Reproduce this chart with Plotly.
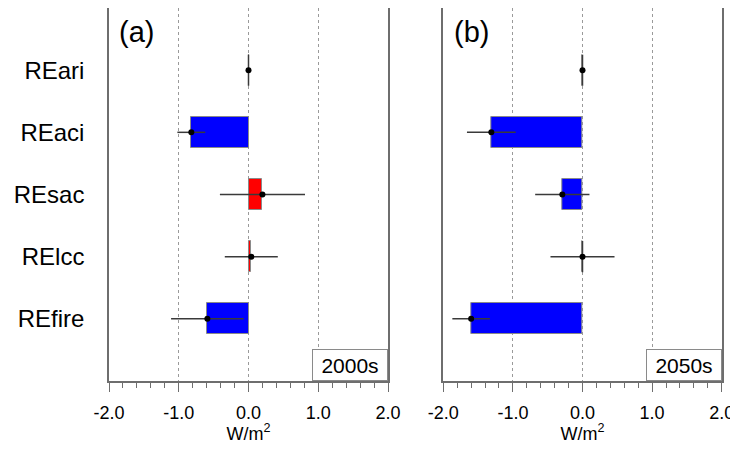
import plotly.graph_objects as go

categories = ["REari", "REaci", "REsac", "RElcc", "REfire"]
vals_2000s = [0.0, -0.82, 0.20, 0.04, -0.59]
err_2000s = [0.0, 0.20, 0.61, 0.38, 0.52]
vals_2050s = [0.0, -1.31, -0.29, 0.0, -1.60]
err_2050s = [0.0, 0.35, 0.39, 0.46, 0.27]
panel_labels = ["(a)", "(b)"]
period_labels = ["2000s", "2050s"]
x_tickvals = [-2.0, -1.0, 0.0, 1.0, 2.0]
x_ticktext = ["-2.0", "-1.0", "0.0", "1.0", "2.0"]

BAR_W = 0.5
FONT = "Liberation Sans, Arial, Helvetica, sans-serif"
FRAME = "#6e6e6e"
W = 730
H = 436

fig = go.Figure()
ypos = list(range(len(categories)))

panels = [(vals_2000s, err_2000s, "x", "y"), (vals_2050s, err_2050s, "x2", "y2")]
for vals, errs, xa, ya in panels:
    colors = ["#ff0000" if v > 0 else "#0000ff" for v in vals]
    fig.add_trace(go.Bar(
        x=vals, y=ypos, orientation="h", width=BAR_W,
        marker=dict(color=colors, line=dict(color="#8a8a8a", width=1)),
        xaxis=xa, yaxis=ya, showlegend=False, hoverinfo="skip"))
    # zero-length bars are drawn as their outline edge
    zx, zy = [], []
    for v, yv in zip(vals, ypos):
        if v == 0:
            zx += [v, v, None]
            zy += [yv - BAR_W / 2, yv + BAR_W / 2, None]
    if zx:
        fig.add_trace(go.Scatter(
            x=zx, y=zy, mode="lines", line=dict(color="#3a3a3a", width=1.5),
            xaxis=xa, yaxis=ya, showlegend=False, hoverinfo="skip"))
    fig.add_trace(go.Scatter(
        x=vals, y=ypos, mode="markers",
        marker=dict(color="black", size=6),
        error_x=dict(type="data", array=errs, visible=True, color="#3a3a3a",
                     thickness=1.5, width=0),
        xaxis=xa, yaxis=ya, showlegend=False, hoverinfo="skip"))

xcommon = dict(
    range=[-2, 2], tickvals=x_tickvals, ticktext=x_ticktext,
    ticks="outside", ticklen=9, tickwidth=1, tickcolor=FRAME,
    minor=dict(dtick=0.2, ticks="outside", ticklen=5, tickwidth=1,
               tickcolor=FRAME, showgrid=False),
    showgrid=True, gridcolor="#9a9a9a", griddash="dot", gridwidth=1,
    zeroline=False, showline=True, linecolor=FRAME, linewidth=1.5, mirror=True,
    tickfont=dict(size=18, color="black", family=FONT),
    ticklabelstandoff=6,
    title=dict(text="W/m<sup>2</sup>", font=dict(size=18, color="black", family=FONT),
               standoff=17),
    automargin=False,
    fixedrange=True,
)
ycommon = dict(
    range=[len(categories), -1], tickvals=ypos, ticktext=categories,
    showgrid=False, zeroline=False, showline=True, linecolor=FRAME,
    linewidth=1.5, mirror=True, ticks="", fixedrange=True, automargin=False,
    tickfont=dict(size=24, color="black", family=FONT),
)

fig.update_layout(
    width=W, height=H,
    margin=dict(l=0, r=0, t=0, b=H - 373, autoexpand=False),
    paper_bgcolor="white", plot_bgcolor="white",
    bargap=0,
    xaxis=dict(domain=[101 / W, 380 / W], anchor="y", **xcommon),
    xaxis2=dict(domain=[435.3 / W, 713.7 / W], anchor="y2", **xcommon),
    yaxis=dict(domain=[0, 1], anchor="x", showticklabels=True, ticklabelstandoff=18, **ycommon),
    yaxis2=dict(domain=[0, 1], anchor="x2", showticklabels=False, **ycommon),
    font=dict(family=FONT, color="black"),
)

for i, (pl, per) in enumerate(zip(panel_labels, period_labels)):
    xr = "x domain" if i == 0 else "x2 domain"
    yr = "y domain" if i == 0 else "y2 domain"
    fig.add_annotation(text=pl, xref=xr, yref=yr, x=0.03, y=0.985,
                       xanchor="left", yanchor="top", showarrow=False,
                       font=dict(size=29, color="black", family=FONT))
    fig.add_annotation(text=per, xref=xr, yref=yr, x=1, y=0,
                       xanchor="right", yanchor="bottom", showarrow=False,
                       width=68, height=24,
                       bordercolor="#8a8a8a", borderwidth=1, borderpad=3,
                       bgcolor="white",
                       font=dict(size=21, color="black", family=FONT))

fig.write_html("out.html")
